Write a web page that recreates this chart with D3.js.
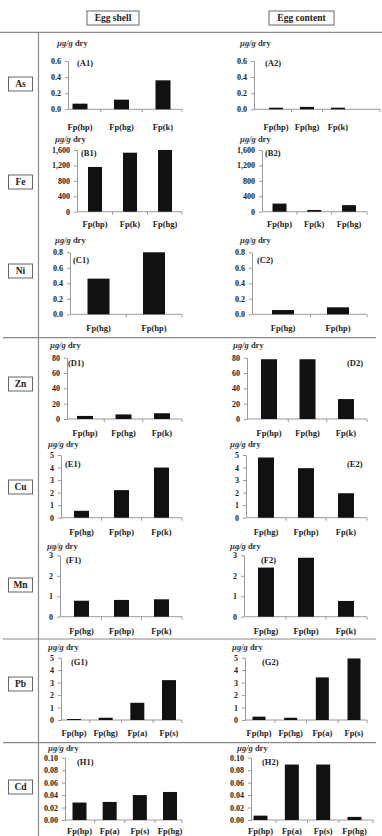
<!DOCTYPE html>
<html><head><meta charset="utf-8">
<script src="https://cdn.jsdelivr.net/npm/d3@7"></script>
<style>body{margin:0;background:#fff}svg{display:block}</style>
</head><body><svg id="c" width="382" height="836"></svg>
<script>
// ---------- data ----------
const columnTitles = ["Egg shell", "Egg content"];
const elements = ["As", "Fe", "Ni", "Zn", "Cu", "Mn", "Pb", "Cd"];
const panelIds = ["A", "B", "C", "D", "E", "F", "G", "H"];

const catsA = ["Fp(hp)", "Fp(hg)", "Fp(k)"];
const shellA = [0.07, 0.12, 0.36];
const contentA = [0.02, 0.03, 0.02];

const catsB = ["Fp(hp)", "Fp(k)", "Fp(hg)"];
const shellB = [1160, 1530, 1600];
const contentB = [210, 45, 170];

const catsC = ["Fp(hg)", "Fp(hp)"];
const shellC = [0.46, 0.80];
const contentC = [0.055, 0.09];

const catsD = ["Fp(hp)", "Fp(hg)", "Fp(k)"];
const shellD = [4, 6, 7.5];
const contentD = [78, 78, 26];

const catsE = ["Fp(hg)", "Fp(hp)", "Fp(k)"];
const shellE = [0.55, 2.2, 4.0];
const contentE = [4.8, 3.95, 1.95];

const catsF = ["Fp(hg)", "Fp(hp)", "Fp(k)"];
const shellF = [0.78, 0.82, 0.85];
const contentF = [2.4, 2.88, 0.77];

const catsG = ["Fp(hp)", "Fp(hg)", "Fp(a)", "Fp(s)"];
const shellG = [0.08, 0.18, 1.38, 3.2];
const contentG = [0.27, 0.18, 3.42, 4.94];

const catsH = ["Fp(hp)", "Fp(a)", "Fp(s)", "Fp(hg)"];
const shellH = [0.028, 0.029, 0.04, 0.045];
const contentH = [0.007, 0.089, 0.089, 0.005];

const yMaxes = [0.6, 1600, 0.8, 80, 5, 3, 5, 0.10];
const yTicks = [
  [0, 0.2, 0.4, 0.6],
  [0, 400, 800, 1200, 1600],
  [0, 0.2, 0.4, 0.6, 0.8],
  [0, 20, 40, 60, 80],
  [0, 1, 2, 3, 4, 5],
  [0, 1, 2, 3],
  [0, 1, 2, 3, 4, 5],
  [0, 0.02, 0.04, 0.06, 0.08, 0.10]
];
const tickFormats = [".1f", ",", ".1f", "d", "d", "d", "d", ".2f"];
const unitLabel = ["µg/g", " dry"];

// ---------- layout ----------
const cats = [catsA, catsB, catsC, catsD, catsE, catsF, catsG, catsH];
const shellVals = [shellA, shellB, shellC, shellD, shellE, shellF, shellG, shellH];
const contentVals = [contentA, contentB, contentC, contentD, contentE, contentF, contentG, contentH];

const rowLayout = [
  {y0: 109.3, yTop: 61,    unitY: 43,    catY: 127,   labY: 63,  boxY: 84},
  {y0: 211.7, yTop: 150,   unitY: 138.5, catY: 224.3, labY: 153, boxY: 182},
  {y0: 314.3, yTop: 252.3, unitY: 240,   catY: 328.3, labY: 260, boxY: 271},
  {y0: 419,   yTop: 357.7, unitY: 345,   catY: 432.7, labY: 363, boxY: 384},
  {y0: 517.7, yTop: 455,   unitY: 444,   catY: 531.7, labY: 464, boxY: 487},
  {y0: 616.7, yTop: 555.3, unitY: 545.7, catY: 631,   labY: 560, boxY: 585},
  {y0: 720,   yTop: 657.7, unitY: 647.3, catY: 733.3, labY: 662, boxY: 684},
  {y0: 820,   yTop: 757.7, unitY: 748.3, catY: 830.5, labY: 762, boxY: 787}
];
const panelLayout = [
  [{ax: 68, end: 182, c: [80, 163],    bw: 15, unitX: 57, labX: 77}, {ax: 254, end: 380, c: [276, 338],     bw: 14, unitX: 240, labX: 265}],
  [{ax: 77, end: 182, c: [95, 165],    bw: 14, unitX: 55, labX: 81}, {ax: 262, end: 367, c: [279.5, 349],   bw: 14, unitX: 240, labX: 265}],
  [{ax: 70, end: 182, c: [98.5, 154],  bw: 22, unitX: 55, labX: 73}, {ax: 252, end: 367, c: [283, 338],     bw: 22, unitX: 240, labX: 257}],
  [{ax: 67, end: 182, c: [85, 162],    bw: 16, unitX: 50, labX: 68}, {ax: 247, end: 367, c: [269, 346],     bw: 16, unitX: 233, labX: 347}],
  [{ax: 61, end: 182, c: [81.5, 161.5],bw: 15, unitX: 48, labX: 65}, {ax: 246, end: 367, c: [266, 346],     bw: 16, unitX: 230, labX: 347}],
  [{ax: 60, end: 182, c: [81.5, 161.5],bw: 15, unitX: 47, labX: 66}, {ax: 244, end: 367, c: [266, 346],     bw: 16, unitX: 230, labX: 261}],
  [{ax: 61, end: 182, c: [74, 169],    bw: 14, unitX: 48, labX: 71}, {ax: 245, end: 367, c: [259, 354],     bw: 13, unitX: 232, labX: 262}],
  [{ax: 65, end: 182, c: [79.5, 170],  bw: 14, unitX: 48, labX: 77}, {ax: 251, end: 373, c: [260.5, 354.5], bw: 14, unitX: 237, labX: 262}]
];

const serif = "'Liberation Serif','Times New Roman',serif";
const svg = d3.select("#c");
svg.append("rect").attr("width", 382).attr("height", 836).attr("fill", "#fff");

// frame lines
const lineCol = "#8a8a8a";
svg.append("line").attr("x1", 0).attr("x2", 382).attr("y1", 32.3).attr("y2", 32.3)
  .attr("stroke", lineCol).attr("stroke-width", 1.3);
svg.append("line").attr("x1", 38.5).attr("x2", 38.5).attr("y1", 32.3).attr("y2", 836)
  .attr("stroke", lineCol).attr("stroke-width", 1.2);
[337.7, 639, 742.7].forEach(y => {
  svg.append("line").attr("x1", 3).attr("x2", 376).attr("y1", y).attr("y2", y)
    .attr("stroke", lineCol).attr("stroke-width", 1.2);
});

// column headers
const headerBoxes = [{x: 87, w: 52}, {x: 269, w: 65}];
columnTitles.forEach((t, i) => {
  const b = headerBoxes[i];
  svg.append("rect").attr("x", b.x).attr("y", 11).attr("width", b.w).attr("height", 14)
    .attr("fill", "#fff").attr("stroke", "#666").attr("stroke-width", 1);
  svg.append("text").attr("x", b.x + b.w / 2).attr("y", 18).attr("text-anchor", "middle")
    .attr("dominant-baseline", "central").attr("font-family", serif).attr("font-weight", "bold")
    .attr("font-size", 9.5).attr("fill", "#222").text(t);
});

// element boxes
elements.forEach((el, i) => {
  const r = rowLayout[i];
  svg.append("rect").attr("x", 8.5).attr("y", r.boxY - 7).attr("width", 24).attr("height", 14)
    .attr("fill", "#fff").attr("stroke", "#666").attr("stroke-width", 1);
  svg.append("text").attr("x", 20.5).attr("y", r.boxY).attr("text-anchor", "middle")
    .attr("dominant-baseline", "central").attr("font-family", serif).attr("font-weight", "bold")
    .attr("font-size", 9.5).attr("fill", "#222").text(el);
});

// panels
const axisCol = "#9a9a9a";
elements.forEach((el, i) => {
  const r = rowLayout[i];
  [shellVals[i], contentVals[i]].forEach((vals, j) => {
    const p = panelLayout[i][j];
    const g = svg.append("g");
    const y = d3.scaleLinear().domain([0, yMaxes[i]]).range([r.y0, r.yTop]);
    const x = d3.scalePoint().domain(cats[i]).range(p.c);

    // y axis
    const yAxis = d3.axisLeft(y).tickValues(yTicks[i]).tickSize(3).tickSizeOuter(0)
      .tickPadding(4).tickFormat(d3.format(tickFormats[i]));
    const ya = g.append("g").attr("transform", `translate(${p.ax},0)`).call(yAxis);
    ya.select(".domain").attr("stroke", axisCol);
    ya.selectAll(".tick line").attr("stroke", axisCol);
    ya.selectAll(".tick text").attr("font-family", serif).attr("font-weight", "bold")
      .attr("font-size", 8).attr("fill", "#222");

    // x axis line + boundary ticks
    g.append("line").attr("x1", p.ax).attr("x2", p.end).attr("y1", r.y0).attr("y2", r.y0)
      .attr("stroke", axisCol).attr("stroke-width", 1);
    const cs = cats[i].map(c => x(c));
    const step = cs.length > 1 ? cs[1] - cs[0] : 0;
    const bounds = cs.slice(0, -1).map(c => c + step / 2).concat([p.end]);
    bounds.forEach(b => {
      g.append("line").attr("x1", b).attr("x2", b).attr("y1", r.y0).attr("y2", r.y0 + 3)
        .attr("stroke", axisCol).attr("stroke-width", 1);
    });

    // bars
    g.selectAll("rect.bar").data(vals).join("rect").attr("class", "bar")
      .attr("x", (d, k) => x(cats[i][k]) - p.bw / 2)
      .attr("y", d => y(d))
      .attr("width", p.bw)
      .attr("height", d => r.y0 - y(d))
      .attr("fill", "#111");

    // category labels
    g.selectAll("text.cat").data(cats[i]).join("text").attr("class", "cat")
      .attr("x", d => x(d)).attr("y", r.catY)
      .attr("text-anchor", "middle").attr("dominant-baseline", "central")
      .attr("font-family", serif).attr("font-weight", "bold").attr("font-size", 8.5)
      .attr("fill", "#222").text(d => d);

    // unit label
    const ut = g.append("text").attr("x", p.unitX).attr("y", r.unitY)
      .attr("dominant-baseline", "central").attr("font-family", serif)
      .attr("font-weight", "bold").attr("font-size", 8.5).attr("fill", "#333");
    ut.append("tspan").attr("font-style", "italic").text(unitLabel[0]);
    ut.append("tspan").text(unitLabel[1]);

    // panel label
    g.append("text").attr("x", p.labX).attr("y", r.labY)
      .attr("dominant-baseline", "central").attr("font-family", serif)
      .attr("font-weight", "bold").attr("font-size", 8.5).attr("fill", "#222")
      .text(`(${panelIds[i]}${j + 1})`);
  });
});
</script>
</body></html>
